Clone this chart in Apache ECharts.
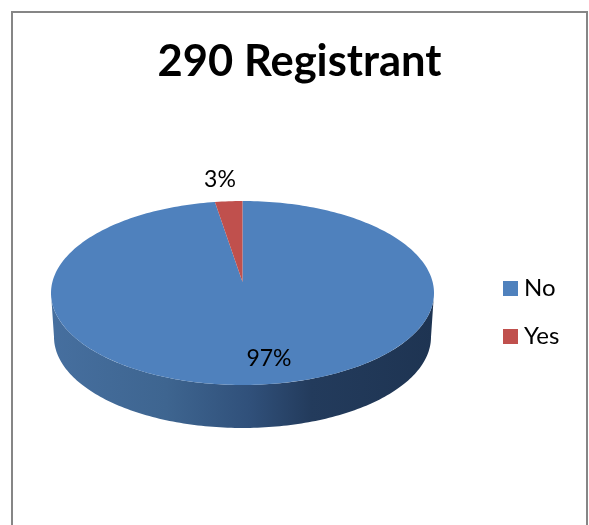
<!DOCTYPE html>
<html>
<head>
<meta charset="utf-8">
<style>html,body{margin:0;padding:0;background:#fff}#c{width:589px;height:525px}</style>
<script src="https://cdn.jsdelivr.net/npm/echarts@6/dist/echarts.min.js"></script>
</head>
<body>
<div id="c"></div>
<script>
const titleText = '290 Registrant';
const categories = ['No', 'Yes'];
const values = [97, 3];
const labels = ['97%', '3%'];
const colors = ['#4f81bd', '#c0504d'];

const FONT = 'Lato';
const TOP = {cx: 242.5, cy: 293, rx: 191.5, ry: 92, apexY: 282};
const BOTTOM = {cx: 242.5, cy: 337, rx: 188.5, ry: 91};
const LABEL_POS = [[269, 359], [220, 180]];
const PERSPECTIVE = 0.766;
const total = values.reduce((a, b) => a + b, 0);

// Ellipse parameter (clockwise from the far side) for a slice boundary at a clock angle,
// foreshortened so that slices on the far side of the tilted disc look narrower.
function rimParam(a) {
  return 2 * Math.atan(PERSPECTIVE * Math.tan(a / 2));
}
function unwrap(p, ref) {
  while (p < ref - 1e-6) p += Math.PI * 2;
  return p;
}
function arcPts(e, t0, t1) {
  const n = Math.max(2, Math.ceil(Math.abs(t1 - t0) / 0.02));
  const pts = [];
  for (let i = 0; i <= n; i++) {
    const t = t0 + (t1 - t0) * i / n;
    pts.push([e.cx + e.rx * Math.sin(t), e.cy - e.ry * Math.cos(t)]);
  }
  return pts;
}
function sliceRender(idx) {
  return function () {
    const before = values.slice(0, idx).reduce((a, b) => a + b, 0);
    const a0 = before / total * Math.PI * 2;
    const a1 = (before + values[idx]) / total * Math.PI * 2;
    const t0 = a0 === 0 ? 0 : unwrap(rimParam(a0), 0);
    const t1 = a1 >= Math.PI * 2 - 1e-9 ? Math.PI * 2 : unwrap(rimParam(a1), t0);
    const children = [];
    const s0 = Math.max(t0, Math.PI / 2), s1 = Math.min(t1, Math.PI * 3 / 2);
    if (s1 > s0) {
      const side = arcPts(TOP, s0, s1).concat(arcPts(BOTTOM, s1, s0));
      children.push({
        type: 'polygon',
        shape: {points: side},
        style: {
          fill: new echarts.graphic.LinearGradient(51, 0, 434, 0, [
            {offset: 0, color: '#466f9f'},
            {offset: 0.3, color: '#3e6590'},
            {offset: 0.52, color: '#30507a'},
            {offset: 0.68, color: '#233b5c'},
            {offset: 1, color: '#1e3452'}
          ], true),
          stroke: null
        }
      });
    }
    const top = [[TOP.cx, TOP.apexY]].concat(arcPts(TOP, t0, t1));
    children.push({
      type: 'polygon',
      shape: {points: top},
      style: {fill: colors[idx], stroke: null}
    });
    return {type: 'group', children: children};
  };
}
function labelRender(idx) {
  return function () {
    return {
      type: 'text',
      style: {
        x: LABEL_POS[idx][0], y: LABEL_POS[idx][1],
        text: labels[idx], fill: '#000', font: '400 23px ' + FONT,
        align: 'center', verticalAlign: 'middle'
      }
    };
  };
}

const series = categories.map((name, i) => ({
  type: 'custom', name: name, coordinateSystem: 'none',
  data: [values[i]], renderItem: sliceRender(i),
  itemStyle: {color: colors[i]}, z: 2 + i, silent: true
}));
categories.forEach((name, i) => series.push({
  type: 'custom', name: name + ' label', coordinateSystem: 'none',
  data: [values[i]], renderItem: labelRender(i), z: 10, silent: true
}));

const chart = echarts.init(document.getElementById('c'), null, {renderer: 'canvas'});
chart.setOption({
  animation: false,
  backgroundColor: '#fff',
  title: {
    text: titleText, left: 299.5, top: 36, padding: 0, textAlign: 'center',
    textStyle: {fontFamily: FONT, fontSize: 43.5, fontWeight: 'bold', color: '#000', lineHeight: 52}
  },
  legend: {
    orient: 'vertical', left: 503, top: 276.5, padding: 0, data: categories,
    icon: 'rect', itemWidth: 15, itemHeight: 15, itemGap: 24, selectedMode: false,
    textStyle: {fontFamily: FONT, fontSize: 24, color: '#000', lineHeight: 24, padding: [0, 0, 0, 1]}
  },
  graphic: [{
    type: 'polyline', silent: true,
    shape: {points: [[12, 525], [12, 12], [587, 12], [587, 525]]},
    style: {stroke: '#868686', lineWidth: 2, fill: null}
  }],
  series: series
});
</script>
</body>
</html>
